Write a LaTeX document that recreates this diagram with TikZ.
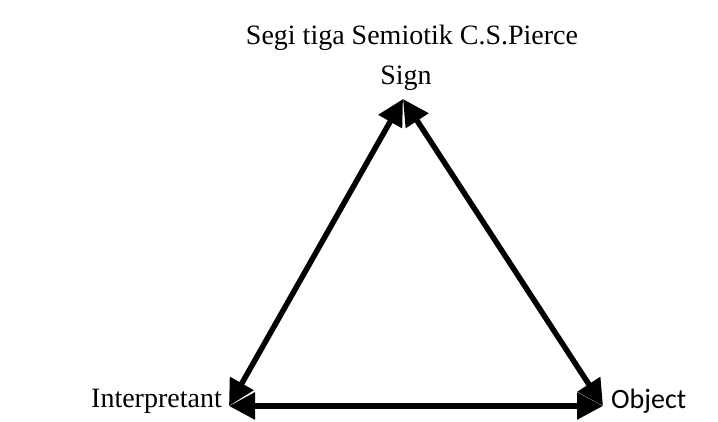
\documentclass[tikz,border=0pt]{standalone}
\usepackage{fontspec}
\setmainfont{Liberation Serif}
\newfontfamily\objfont{Carlito}
\usetikzlibrary{arrows.meta}
\tikzset{edge/.style={line width=5.5pt, {Triangle[length=26pt,width=26pt]}-{Triangle[length=26pt,width=26pt]}}}

\begin{document}
\begin{tikzpicture}[
  x=1pt, y=-1pt,
  lbl/.style={inner sep=0pt, font=\fontsize{28}{30}\selectfont}
]
\useasboundingbox (0,0) rectangle (718,421);
\coordinate (s) at (403,99);
\coordinate (i) at (229,406);
\coordinate (o) at (603,406);
\node[lbl] (title) at (412,38) {Segi tiga Semiotik C.S.Pierce};
\node[lbl] (sign) at (406,78) {Sign};
\node[lbl, anchor=east] (interp) at (222,401) {Interpretant};
\node[lbl, anchor=west, font=\objfont\fontsize{28}{30}\selectfont] (obj) at (611,401) {Object};
% sides of the triangle
\draw[edge] (i) -- (s);
\draw[edge] (s) -- (o);
\draw[edge] (i) -- (o);
\end{tikzpicture}
\end{document}
